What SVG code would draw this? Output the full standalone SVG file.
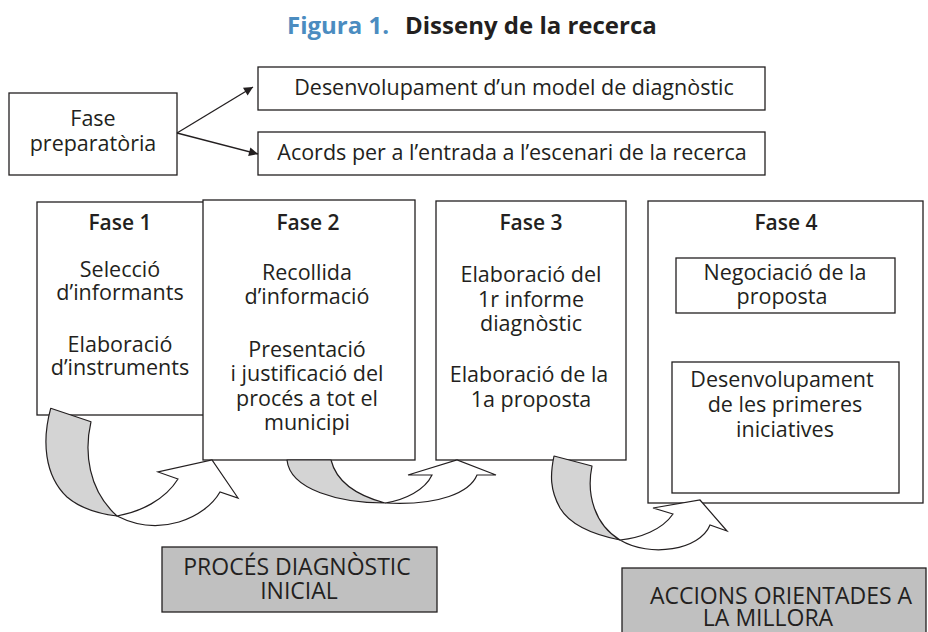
<svg xmlns="http://www.w3.org/2000/svg" width="928" height="632" viewBox="0 0 928 632">
<defs>
<style>
.box{fill:#fff;stroke:#231f20;stroke-width:1.3}
.gbox{fill:#c0c0c0;stroke:#231f20;stroke-width:1.3}
.t{font-family:"Open Sans","Noto Sans","Liberation Sans",sans-serif;font-size:21.5px;fill:#231f20;text-anchor:middle}
.c{font-family:"Open Sans","Noto Sans","Liberation Sans",sans-serif;font-size:23px;fill:#231f20;text-anchor:middle}
.h{font-family:"Open Sans","Noto Sans","Liberation Sans",sans-serif;font-size:21px;font-weight:600;fill:#231f20;text-anchor:middle}
.ttl{font-family:"Open Sans","Noto Sans","Liberation Sans",sans-serif;font-size:24px;font-weight:bold}
.ln{stroke:#231f20;stroke-width:1.3;fill:none}
.cg{fill:#d4d4d4;stroke:#231f20;stroke-width:1.2;stroke-linejoin:round}
.cw{fill:#fff;stroke:#231f20;stroke-width:1.2;stroke-linejoin:miter}
</style>
<marker id="ah" viewBox="0 0 10 10" refX="10" refY="5" markerWidth="11" markerHeight="9" markerUnits="userSpaceOnUse" orient="auto">
<path d="M0,0 L10,5 L0,10 Z" fill="#231f20"/>
</marker>
</defs>

<text id="title" class="ttl" y="34"><tspan x="287" fill="#4b8cc0">Figura 1.</tspan><tspan x="405" fill="#231f20">Disseny de la recerca</tspan></text>

<g id="fase-prep">
<rect class="box" x="9" y="93" width="168" height="82"/>
<text class="t"><tspan x="93" y="126">Fase</tspan><tspan x="93" y="151">preparatòria</tspan></text>
</g>

<g id="desenvolupament-model">
<rect class="box" x="258" y="67" width="507" height="43"/>
<text class="t" x="514" y="95">Desenvolupament d’un model de diagnòstic</text>
</g>

<g id="acords">
<rect class="box" x="258" y="132" width="507" height="43"/>
<text class="t" x="512" y="160">Acords per a l’entrada a l’escenari de la recerca</text>
</g>

<g id="fase1">
<rect class="box" x="37" y="202" width="167" height="213"/>
<text class="h" x="120" y="230">Fase 1</text>
<text class="t"><tspan x="120" y="277">Selecció</tspan><tspan x="120" y="300">d’informants</tspan></text>
<text class="t"><tspan x="120" y="352">Elaboració</tspan><tspan x="120" y="375">d’instruments</tspan></text>
</g>

<g id="fase2">
<rect class="box" x="203" y="200" width="212" height="260"/>
<text class="h" x="308" y="230">Fase 2</text>
<text class="t"><tspan x="307" y="280">Recollida</tspan><tspan x="307" y="304">d’informació</tspan></text>
<text class="t"><tspan x="307" y="357">Presentació</tspan><tspan x="307" y="381">i justificació del</tspan><tspan x="307" y="406">procés a tot el</tspan><tspan x="307" y="430">municipi</tspan></text>
</g>

<g id="fase3">
<rect class="box" x="436" y="201" width="190" height="259"/>
<text class="h" x="531" y="230">Fase 3</text>
<text class="t"><tspan x="531" y="282">Elaboració del</tspan><tspan x="531" y="307">1r informe</tspan><tspan x="531" y="331">diagnòstic</tspan></text>
<text class="t"><tspan x="529" y="382">Elaboració de la</tspan><tspan x="531" y="407">1a proposta</tspan></text>
</g>

<g id="fase4">
<rect class="box" x="648" y="201" width="275" height="302"/>
<text class="h" x="786" y="230">Fase 4</text>
<rect class="box" x="676" y="258" width="219" height="55"/>
<text class="t"><tspan x="785" y="280">Negociació de la</tspan><tspan x="782" y="304">proposta</tspan></text>
<rect class="box" x="672" y="362" width="227" height="131"/>
<text class="t"><tspan x="782" y="387">Desenvolupament</tspan><tspan x="785" y="412">de les primeres</tspan><tspan x="785" y="437">iniciatives</tspan></text>
</g>

<g id="proces">
<rect class="gbox" x="162" y="547" width="275" height="65"/>
<text class="c"><tspan x="297" y="575">PROCÉS DIAGNÒSTIC</tspan><tspan x="299" y="599">INICIAL</tspan></text>
</g>

<g id="accions">
<rect class="gbox" x="622" y="568" width="304" height="72"/>
<text class="c"><tspan x="781" y="604">ACCIONS ORIENTADES A</tspan><tspan x="768" y="626">LA MILLORA</tspan></text>
</g>

<g id="connectors">
<line class="ln" x1="177" y1="133" x2="253" y2="87" marker-end="url(#ah)"/>
<line class="ln" x1="177" y1="133" x2="258" y2="154" marker-end="url(#ah)"/>

<path class="cg" d="M50.7,408.3 L91,421.7 C84,452 88,490 117,516 C100,514 80,508 67,497 C44,475 42,440 50.7,408.3 Z"/>
<path class="cw" d="M117,516 C140,512 165,500 178,479 L158,472 L212,460 L238,498 L220,492 C205,518 160,538 117,516 Z"/>

<path class="cg" d="M287,460 L331,460 C336,480 355,495 385,503 C340,503 290,490 287,460 Z"/>
<path class="cw" d="M385,503 C405,500 425,490 432,475 L408,475 L457,460 L496,475 L477,475 C470,492 440,506 385,503 Z"/>

<path class="cg" d="M554,456 L592,466 C586,495 595,525 620,540 C595,535 570,525 560,508 C550,490 550,475 554,456 Z"/>
<path class="cw" d="M620,540 C640,538 662,530 673,514 L653,508 L700,500 L727,531 L710,525 C700,550 650,558 620,540 Z"/>
</g>
</svg>
